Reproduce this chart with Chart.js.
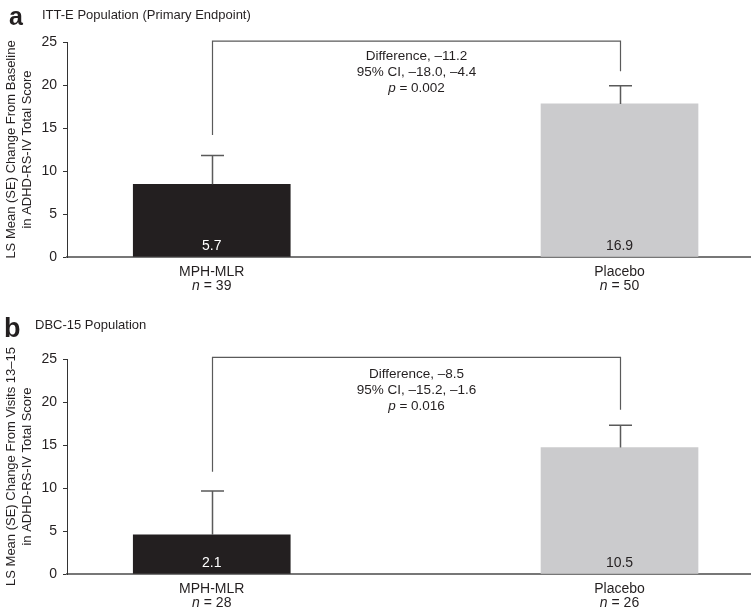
<!DOCTYPE html>
<html>
<head>
<meta charset="utf-8">
<script src="https://cdn.jsdelivr.net/npm/chart.js@4/dist/chart.umd.min.js"></script>
<style>
    body { margin: 0; background: #fff; font-family: "Liberation Sans", Arial, sans-serif; color: #231f20; }
    #page { position: relative; width: 751px; height: 607px; }
    .panel { position: absolute; left: 0; width: 751px; }
    .letter { position: absolute; font-weight: bold; font-size: 25px; }
    .sub { position: absolute; font-size: 13px; }
</style>
</head>
<body>
<div id="page">
    <div class="panel" style="top:0;height:300px"><canvas id="chartA" width="751" height="300"></canvas></div>
    <div class="panel" style="top:300px;height:307px"><canvas id="chartB" width="751" height="307"></canvas></div>
    <div class="letter" style="left:9px;top:2px">a</div>
    <div class="sub" style="left:42px;top:7px">ITT-E Population (Primary Endpoint)</div>
    <div class="letter" style="left:4px;top:313px;font-size:27px">b</div>
    <div class="sub" style="left:35px;top:317px">DBC-15 Population</div>
</div>
<script>
var groups = ['MPH-MLR', 'Placebo'];

// panel a
var nA = [39, 50];
var meanA = [8.45, 17.8];
var seTopA = [11.8, 19.9];
var barTextA = ['5.7', '16.9'];
var bracketA = [25.1, 14.2, 21.6];   // top, left end, right end
var diffA = ['Difference, \u201311.2', '95% CI, \u201318.0, \u20134.4', 'p = 0.002'];

// panel b
var nB = [28, 26];
var meanB = [4.55, 14.7];
var seTopB = [9.65, 17.3];
var barTextB = ['2.1', '10.5'];
var bracketB = [25.2, 11.9, 19.1];
var diffB = ['Difference, \u20138.5', '95% CI, \u201315.2, \u20131.6', 'p = 0.016'];

var yTicks = [0, 5, 10, 15, 20, 25];
var FONT = '"Liberation Sans", Arial, sans-serif';
var INK = '#231f20';

var extras = {
    id: 'extras',
    afterDatasetsDraw: function (chart) {
        var o = chart.options.plugins.extras;
        var ctx = chart.ctx, x = chart.scales.x, y = chart.scales.y;
        ctx.save();
        ctx.strokeStyle = '#5a5a5a';
        ctx.lineWidth = 1.5;
        // error bars
        o.means.forEach(function (m, i) {
            var cx = Math.round(x.getPixelForValue(i + 1)) + 0.5;
            var y0 = y.getPixelForValue(m), y1 = y.getPixelForValue(o.seTop[i]);
            ctx.beginPath();
            ctx.moveTo(cx, y0); ctx.lineTo(cx, y1);
            ctx.moveTo(cx - 11.5, y1); ctx.lineTo(cx + 11.5, y1);
            ctx.stroke();
        });
        // bracket
        var xl = Math.round(x.getPixelForValue(1)) + 0.5, xr = Math.round(x.getPixelForValue(2)) + 0.5;
        var yt = y.getPixelForValue(o.bracket[0]);
        ctx.lineWidth = 1.2;
        ctx.beginPath();
        ctx.moveTo(xl, y.getPixelForValue(o.bracket[1]));
        ctx.lineTo(xl, yt); ctx.lineTo(xr, yt);
        ctx.lineTo(xr, y.getPixelForValue(o.bracket[2]));
        ctx.stroke();
        // difference text
        ctx.fillStyle = INK;
        ctx.textAlign = 'center';
        ctx.textBaseline = 'middle';
        ctx.font = '13.5px ' + FONT;
        var mid = (xl + xr) / 2;
        o.diff.forEach(function (t, k) {
            var ty = yt + o.textGap + k * 16;
            if (t.indexOf('p = ') === 0) {
                var rest = t.slice(1);
                ctx.font = 'italic 13.5px ' + FONT;
                var wp = ctx.measureText('p').width;
                ctx.font = '13.5px ' + FONT;
                var wr = ctx.measureText(rest).width;
                var sx = mid - (wp + wr) / 2;
                ctx.textAlign = 'left';
                ctx.font = 'italic 13.5px ' + FONT;
                ctx.fillText('p', sx, ty);
                ctx.font = '13.5px ' + FONT;
                ctx.fillText(rest, sx + wp, ty);
                ctx.textAlign = 'center';
            } else {
                ctx.fillText(t, mid, ty);
            }
        });
        // bar value labels
        ctx.font = '14px ' + FONT;
        o.barText.forEach(function (t, i) {
            ctx.fillStyle = i === 0 ? '#fff' : INK;
            ctx.fillText(t, x.getPixelForValue(i + 1), y.getPixelForValue(0) - 11);
        });
        // category labels with italic n
        ctx.fillStyle = INK;
        groups.forEach(function (g, i) {
            var cx = x.getPixelForValue(i + 1);
            var by = y.getPixelForValue(0);
            ctx.font = '14px ' + FONT;
            ctx.textAlign = 'center';
            ctx.fillText(g, cx, by + 15);
            var rest = ' = ' + o.n[i];
            ctx.font = 'italic 14px ' + FONT;
            var wn = ctx.measureText('n').width;
            ctx.font = '14px ' + FONT;
            var wr = ctx.measureText(rest).width;
            var sx = cx - (wn + wr) / 2;
            ctx.textAlign = 'left';
            ctx.font = 'italic 14px ' + FONT;
            ctx.fillText('n', sx, by + 29);
            ctx.font = '14px ' + FONT;
            ctx.fillText(rest, sx + wn, by + 29);
        });
        ctx.restore();
    }
};

function makeChart(id, means, seTop, barText, bracket, diff, n, titleLines, padTop, xHeight, textGap) {
    return new Chart(document.getElementById(id), {
        type: 'bar',
        data: {
            datasets: [{
                data: means.map(function (v, i) { return { x: i + 1, y: v }; }),
                backgroundColor: ['#231f20', '#cbcbcd'],
                borderWidth: 0,
                barThickness: 157
            }]
        },
        plugins: [extras],
        options: {
            responsive: false,
            animation: false,
            layout: { padding: { top: padTop, right: 1, left: 0, bottom: 0 } },
            plugins: {
                legend: { display: false },
                tooltip: { enabled: false },
                extras: { means: means, seTop: seTop, barText: barText, bracket: bracket, diff: diff, n: n, textGap: textGap }
            },
            scales: {
                x: {
                    type: 'linear',
                    offset: false,
                    min: 0.645,
                    max: 2.32,
                    ticks: { display: false },
                    grid: { display: false },
                    border: { display: true, color: '#777', width: 2 },
                    afterFit: function (s) { s.height = xHeight; }
                },
                y: {
                    min: 0,
                    max: 25,
                    afterBuildTicks: function (s) { s.ticks = yTicks.map(function (v) { return { value: v }; }); },
                    ticks: { color: INK, padding: 6, font: { family: FONT, size: 14 } },
                    grid: { display: true, drawOnChartArea: false, drawTicks: true, tickLength: 4, color: '#333' },
                    border: { display: true, color: '#333', width: 1 },
                    title: {
                        display: true,
                        text: titleLines,
                        color: INK,
                        font: { family: FONT, size: 13 },
                        padding: { top: 4, bottom: 4 }
                    },
                    afterFit: function (s) { s.width = 67; }
                }
            }
        }
    });
}

makeChart('chartA', meanA, seTopA, barTextA, bracketA, diffA, nA,
    ['LS Mean (SE) Change From Baseline', 'in ADHD-RS-IV Total Score'], 42, 43, 15);
makeChart('chartB', meanB, seTopB, barTextB, bracketB, diffB, nB,
    ['LS Mean (SE) Change From Visits 13\u201315', 'in ADHD-RS-IV Total Score'], 59, 33, 17);
</script>
</body>
</html>
